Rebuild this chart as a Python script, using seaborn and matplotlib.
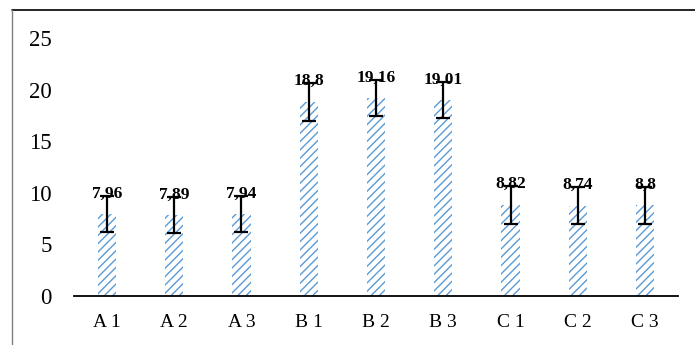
import matplotlib
matplotlib.use("Agg")
import matplotlib.pyplot as plt
import seaborn as sns
import pandas as pd
from matplotlib.lines import Line2D

# dados do gráfico
amostras = ["A 1", "A 2", "A 3", "B 1", "B 2", "B 3", "C 1", "C 2", "C 3"]
valores = [7.96, 7.89, 7.94, 18.8, 19.16, 19.01, 8.82, 8.74, 8.8]
erros = [1.75, 1.75, 1.75, 1.8, 1.75, 1.75, 1.8, 1.8, 1.8]
yticks = [0, 5, 10, 15, 20, 25]

df = pd.DataFrame({"amostra": amostras, "valor": valores, "erro": erros})

sns.set_style("white")
plt.rcParams["font.family"] = ["Liberation Serif", "DejaVu Serif"]
plt.rcParams["hatch.linewidth"] = 1.0
plt.rcParams["hatch.color"] = "#5B9BD5"

fig = plt.figure(figsize=(6.95, 3.45), dpi=100)
ax = fig.add_axes([74 / 695, 1 - 296 / 345, (678 - 74) / 695, (296 - 38) / 345])

sns.barplot(data=df, x="amostra", y="valor", ax=ax, width=0.27,
            color="white", errorbar=None)
for p in ax.patches:
    p.set_facecolor("white")
    p.set_edgecolor("#5B9BD5")
    p.set_hatch("////")
    p.set_linewidth(0)

xs = range(len(amostras))
ax.errorbar(list(xs), df["valor"], yerr=df["erro"], fmt="none",
            ecolor="black", elinewidth=1.6, capsize=5, capthick=1.6, zorder=5)

for x, v, e in zip(xs, valores, erros):
    rotulo = f"{v:g}".replace(".", ",")
    ax.text(x, v + e + 0.2, rotulo, ha="center", va="center",
            fontsize=12.5, fontweight="bold", color="black", zorder=6)

ax.set_ylim(0, 25)
ax.set_xlim(-0.49, 8.49)
ax.set_yticks(yticks)
ax.set_yticklabels([str(t) for t in yticks], fontsize=16.5)
ax.tick_params(axis="x", labelsize=14, length=0, pad=13, labelcolor="black")
ax.tick_params(axis="y", length=0, pad=16, labelcolor="black")
ax.set_xlabel("")
ax.set_ylabel("")
for s in ["top", "right", "left"]:
    ax.spines[s].set_visible(False)
ax.spines["bottom"].set_color("black")
ax.spines["bottom"].set_linewidth(1.3)

# moldura da figura
fig.add_artist(Line2D([12 / 695, 1], [1 - 9.5 / 345, 1 - 9.5 / 345],
                      transform=fig.transFigure, color="black", lw=1.2))
fig.add_artist(Line2D([12 / 695, 12 / 695], [0, 1 - 9.5 / 345],
                      transform=fig.transFigure, color="#7f7f7f", lw=1.0))

fig.savefig("out.png", dpi=100)
